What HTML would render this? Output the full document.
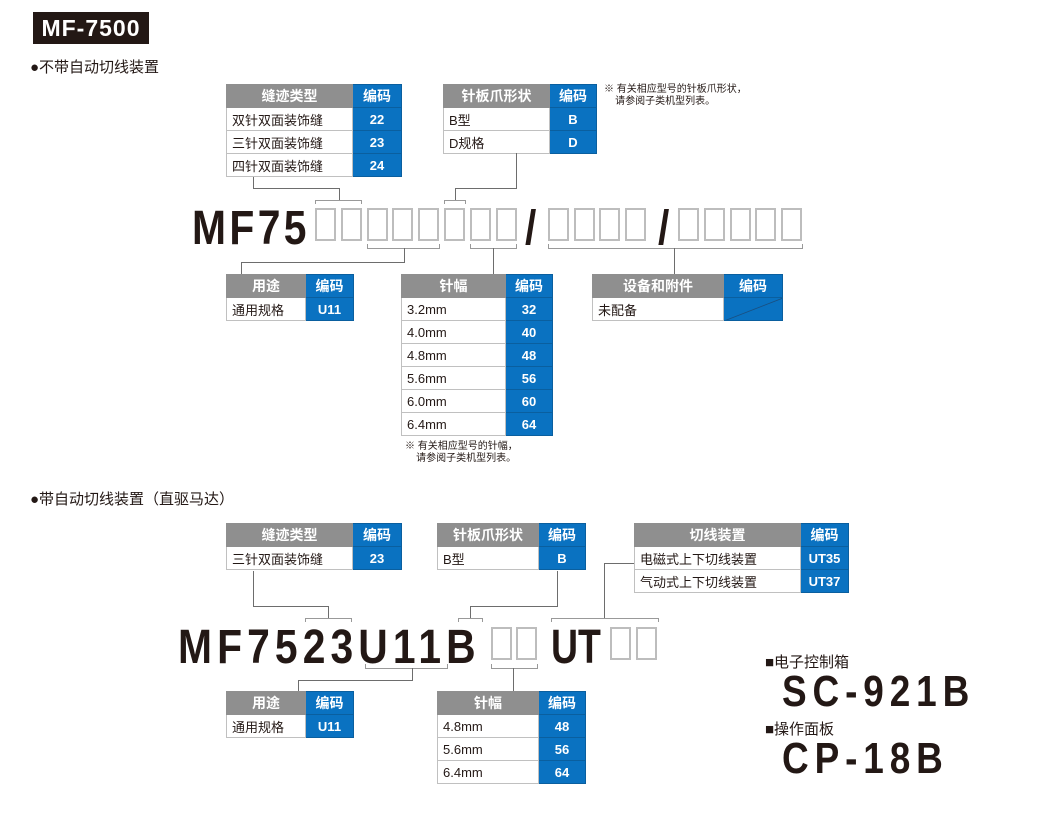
<!DOCTYPE html>
<html><head><meta charset="utf-8">
<style>
*{margin:0;padding:0;box-sizing:border-box}
body{width:1060px;height:818px;background:#fff;position:relative;overflow:hidden;font-family:"Liberation Sans","Noto Sans CJK SC",sans-serif;color:#231815}
.a{position:absolute}
table{position:absolute;border-collapse:collapse;font-size:13px;table-layout:fixed}
td{border:1px solid #c0c0c0;height:23px;padding:0 0 0 5px;white-space:nowrap;overflow:hidden}
th{height:23px;background:#8f8f8f;color:#fff;font-weight:bold;font-size:14px;border:1px solid #8f8f8f}
th.c,td.c{background:#0a72c1;color:#fff;font-weight:bold;text-align:center;padding:0;border:1px solid #0a5f9f}
.big{position:absolute;font-weight:bold;font-size:48px;letter-spacing:4px;line-height:1;color:#231815;transform:scaleX(0.85);transform-origin:0 0;white-space:nowrap}
.box{position:absolute;width:21px;height:33px;border:2px solid #bdbdbd}
.l{position:absolute;background:#6d6d6d}
.note{position:absolute;font-size:10px;line-height:12px}
.h{position:absolute;font-size:15px;font-weight:bold}
</style></head><body>
<div class="a" style="left:33px;top:12px;width:116px;height:32px;background:#231815;color:#fff;font-weight:bold;font-size:23px;line-height:32px;text-align:center;letter-spacing:1px">MF-7500</div>
<div class="h" style="left:30px;top:56px;font-weight:normal">●不带自动切线装置</div>

<table style="left:226px;top:84px;width:175px"><colgroup><col style="width:126px"><col style="width:49px"></colgroup>
<tr><th>缝迹类型</th><th class="c">编码</th></tr>
<tr><td>双针双面装饰缝</td><td class="c">22</td></tr>
<tr><td>三针双面装饰缝</td><td class="c">23</td></tr>
<tr><td>四针双面装饰缝</td><td class="c">24</td></tr></table>

<table style="left:443px;top:84px;width:153px"><colgroup><col style="width:106px"><col style="width:47px"></colgroup>
<tr><th>针板爪形状</th><th class="c">编码</th></tr>
<tr><td>B型</td><td class="c">B</td></tr>
<tr><td>D规格</td><td class="c">D</td></tr></table>
<div class="note" style="left:604px;top:84px">※ 有关相应型号的针板爪形状，<br>&nbsp;&nbsp;&nbsp;&nbsp;请参阅子类机型列表。</div>

<div class="big" style="left:192px;top:205px">MF75</div>
<div class="box" style="left:315px;top:208px"></div><div class="box" style="left:341px;top:208px"></div><div class="box" style="left:367px;top:208px"></div><div class="box" style="left:392px;top:208px"></div><div class="box" style="left:418px;top:208px"></div><div class="box" style="left:444px;top:208px"></div><div class="box" style="left:470px;top:208px"></div><div class="box" style="left:496px;top:208px"></div>
<div class="big" style="left:525px;top:205px">/</div>
<div class="box" style="left:548px;top:208px"></div><div class="box" style="left:574px;top:208px"></div><div class="box" style="left:599px;top:208px"></div><div class="box" style="left:625px;top:208px"></div>
<div class="big" style="left:658px;top:205px">/</div>
<div class="box" style="left:678px;top:208px"></div><div class="box" style="left:704px;top:208px"></div><div class="box" style="left:730px;top:208px"></div><div class="box" style="left:755px;top:208px"></div><div class="box" style="left:781px;top:208px"></div>

<div class="l" style="left:253px;top:177px;width:1px;height:11px"></div>
<div class="l" style="left:253px;top:188px;width:86px;height:1px"></div>
<div class="l" style="left:339px;top:188px;width:1px;height:12px"></div>
<div class="l" style="left:315px;top:200px;width:47px;height:1px;background:#999"></div>
<div class="l" style="left:315px;top:200px;width:1px;height:4px;background:#999"></div><div class="l" style="left:361px;top:200px;width:1px;height:4px;background:#999"></div>
<div class="l" style="left:516px;top:153px;width:1px;height:35px"></div>
<div class="l" style="left:455px;top:188px;width:62px;height:1px"></div>
<div class="l" style="left:455px;top:188px;width:1px;height:12px"></div>
<div class="l" style="left:444px;top:200px;width:22px;height:1px;background:#999"></div>
<div class="l" style="left:444px;top:200px;width:1px;height:4px;background:#999"></div><div class="l" style="left:465px;top:200px;width:1px;height:4px;background:#999"></div>
<div class="l" style="left:367px;top:248px;width:73px;height:1px;background:#999"></div>
<div class="l" style="left:367px;top:244px;width:1px;height:4px;background:#999"></div><div class="l" style="left:439px;top:244px;width:1px;height:4px;background:#999"></div>
<div class="l" style="left:404px;top:248px;width:1px;height:14px"></div>
<div class="l" style="left:241px;top:262px;width:164px;height:1px"></div>
<div class="l" style="left:241px;top:262px;width:1px;height:12px"></div>
<div class="l" style="left:470px;top:248px;width:47px;height:1px;background:#999"></div>
<div class="l" style="left:470px;top:244px;width:1px;height:4px;background:#999"></div><div class="l" style="left:516px;top:244px;width:1px;height:4px;background:#999"></div>
<div class="l" style="left:493px;top:248px;width:1px;height:26px"></div>
<div class="l" style="left:548px;top:248px;width:255px;height:1px;background:#999"></div>
<div class="l" style="left:548px;top:244px;width:1px;height:4px;background:#999"></div><div class="l" style="left:802px;top:244px;width:1px;height:4px;background:#999"></div>
<div class="l" style="left:674px;top:248px;width:1px;height:26px"></div>

<table style="left:226px;top:274px;width:127px"><colgroup><col style="width:79px"><col style="width:48px"></colgroup>
<tr><th>用途</th><th class="c">编码</th></tr>
<tr><td>通用规格</td><td class="c">U11</td></tr></table>

<table style="left:401px;top:274px;width:151px"><colgroup><col style="width:104px"><col style="width:47px"></colgroup>
<tr><th>针幅</th><th class="c">编码</th></tr>
<tr><td>3.2mm</td><td class="c">32</td></tr>
<tr><td>4.0mm</td><td class="c">40</td></tr>
<tr><td>4.8mm</td><td class="c">48</td></tr>
<tr><td>5.6mm</td><td class="c">56</td></tr>
<tr><td>6.0mm</td><td class="c">60</td></tr>
<tr><td>6.4mm</td><td class="c">64</td></tr></table>
<div class="note" style="left:405px;top:441px">※ 有关相应型号的针幅，<br>&nbsp;&nbsp;&nbsp;&nbsp;请参阅子类机型列表。</div>

<table style="left:592px;top:274px;width:190px"><colgroup><col style="width:131px"><col style="width:59px"></colgroup>
<tr><th>设备和附件</th><th class="c">编码</th></tr>
<tr><td>未配备</td><td class="c" style="position:relative"><svg class="a" style="left:0;top:0" width="59" height="23"><line x1="0" y1="23" x2="59" y2="0" stroke="#1a4f80" stroke-width="0.8"/></svg></td></tr></table>

<div class="h" style="left:30px;top:488px;font-weight:normal">●带自动切线装置（直驱马达）</div>

<table style="left:226px;top:523px;width:175px"><colgroup><col style="width:126px"><col style="width:49px"></colgroup>
<tr><th>缝迹类型</th><th class="c">编码</th></tr>
<tr><td>三针双面装饰缝</td><td class="c">23</td></tr></table>

<table style="left:437px;top:523px;width:148px"><colgroup><col style="width:101px"><col style="width:47px"></colgroup>
<tr><th>针板爪形状</th><th class="c">编码</th></tr>
<tr><td>B型</td><td class="c">B</td></tr></table>

<table style="left:634px;top:523px;width:214px"><colgroup><col style="width:166px"><col style="width:48px"></colgroup>
<tr><th>切线装置</th><th class="c">编码</th></tr>
<tr><td>电磁式上下切线装置</td><td class="c">UT35</td></tr>
<tr><td>气动式上下切线装置</td><td class="c">UT37</td></tr></table>

<div class="big" style="left:178px;top:624px;letter-spacing:6px">MF7523U11B</div>
<div class="box" style="left:491px;top:627px"></div><div class="box" style="left:516px;top:627px"></div>
<div class="big" style="left:551px;top:624px;letter-spacing:0;transform:scaleX(0.78)">UT</div>
<div class="box" style="left:610px;top:627px"></div><div class="box" style="left:636px;top:627px"></div>

<div class="l" style="left:253px;top:571px;width:1px;height:35px"></div>
<div class="l" style="left:253px;top:606px;width:76px;height:1px"></div>
<div class="l" style="left:328px;top:606px;width:1px;height:12px"></div>
<div class="l" style="left:305px;top:618px;width:47px;height:1px;background:#999"></div>
<div class="l" style="left:305px;top:618px;width:1px;height:4px;background:#999"></div><div class="l" style="left:351px;top:618px;width:1px;height:4px;background:#999"></div>
<div class="l" style="left:557px;top:571px;width:1px;height:35px"></div>
<div class="l" style="left:470px;top:606px;width:88px;height:1px"></div>
<div class="l" style="left:470px;top:606px;width:1px;height:12px"></div>
<div class="l" style="left:458px;top:618px;width:25px;height:1px;background:#999"></div>
<div class="l" style="left:458px;top:618px;width:1px;height:4px;background:#999"></div><div class="l" style="left:482px;top:618px;width:1px;height:4px;background:#999"></div>
<div class="l" style="left:604px;top:563px;width:30px;height:1px"></div>
<div class="l" style="left:604px;top:563px;width:1px;height:55px"></div>
<div class="l" style="left:551px;top:618px;width:108px;height:1px;background:#999"></div>
<div class="l" style="left:551px;top:618px;width:1px;height:4px;background:#999"></div><div class="l" style="left:658px;top:618px;width:1px;height:4px;background:#999"></div>
<div class="l" style="left:365px;top:668px;width:83px;height:1px;background:#999"></div>
<div class="l" style="left:365px;top:664px;width:1px;height:4px;background:#999"></div><div class="l" style="left:447px;top:664px;width:1px;height:4px;background:#999"></div>
<div class="l" style="left:412px;top:668px;width:1px;height:12px"></div>
<div class="l" style="left:298px;top:680px;width:115px;height:1px"></div>
<div class="l" style="left:298px;top:680px;width:1px;height:11px"></div>
<div class="l" style="left:491px;top:668px;width:47px;height:1px;background:#999"></div>
<div class="l" style="left:491px;top:664px;width:1px;height:4px;background:#999"></div><div class="l" style="left:537px;top:664px;width:1px;height:4px;background:#999"></div>
<div class="l" style="left:513px;top:668px;width:1px;height:23px"></div>

<table style="left:226px;top:691px;width:127px"><colgroup><col style="width:79px"><col style="width:48px"></colgroup>
<tr><th>用途</th><th class="c">编码</th></tr>
<tr><td>通用规格</td><td class="c">U11</td></tr></table>

<table style="left:437px;top:691px;width:148px"><colgroup><col style="width:101px"><col style="width:47px"></colgroup>
<tr><th>针幅</th><th class="c">编码</th></tr>
<tr><td>4.8mm</td><td class="c">48</td></tr>
<tr><td>5.6mm</td><td class="c">56</td></tr>
<tr><td>6.4mm</td><td class="c">64</td></tr></table>

<div class="h" style="left:765px;top:651px;font-weight:normal">■电子控制箱</div>
<div class="big" style="left:782px;top:670px;font-size:44px;letter-spacing:7px;transform:scaleX(0.84)">SC-921B</div>
<div class="h" style="left:765px;top:718px;font-weight:normal">■操作面板</div>
<div class="big" style="left:782px;top:737px;font-size:44px;letter-spacing:7px;transform:scaleX(0.84)">CP-18B</div>
</body></html>
